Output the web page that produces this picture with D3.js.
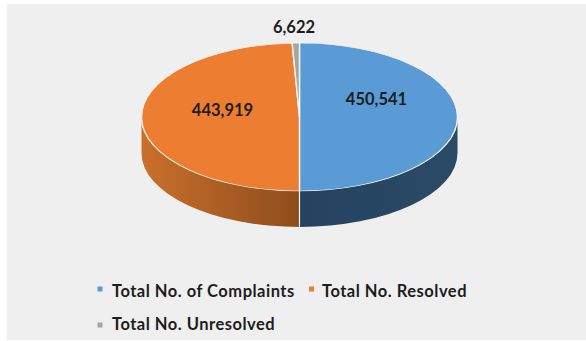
<!DOCTYPE html>
<html>
<head>
<meta charset="utf-8">
<script src="https://cdn.jsdelivr.net/npm/d3@7"></script>
<style>
  html, body { margin: 0; padding: 0; background: #fff; }
  svg { display: block; }
  text { font-family: Lato, "Open Sans", sans-serif; font-weight: 700; fill: #1d1d1d; }
</style>
</head>
<body>
<svg id="chart" width="586" height="341"></svg>
<script>
const categories = ["Total No. of Complaints", "Total No. Resolved", "Total No. Unresolved"];
const values = [450541, 443919, 6622];
const valueLabels = ["450,541", "443,919", "6,622"];
const topColors = ["#5b9bd5", "#ed7d31", "#a5a5a5"];
const wallStops = [["#254360", "#2a4a66"], ["#c9702c", "#8e4d1c"], ["#777777", "#777777"]];

const svg = d3.select("#chart");
const W = 586, H = 341;
const cx = 299.5, cy = 117, rx = 158, ry = 74, depth = 36;

// Panel behind the chart
svg.append("rect").attr("x", 7).attr("y", 4)
  .attr("width", W - 7).attr("height", H - 5).attr("fill", "#efefef");

const pie = d3.pie().sort(null).value(d => d);
const slices = pie(values);

// Point on the tilted rim for a pie angle measured clockwise from 12 o'clock
const rim = (a, dy = 0) => [cx + rx * Math.sin(a), cy - ry * Math.cos(a) + dy];

const defs = svg.append("defs");

// Side wall: only the part of each slice that faces the viewer (angles 90deg to 270deg)
const front = [Math.PI / 2, 3 * Math.PI / 2];
slices.forEach((s, i) => {
  const a0 = Math.max(s.startAngle, front[0]);
  const a1 = Math.min(s.endAngle, front[1]);
  if (a1 <= a0) return;
  const [x0, y0] = rim(a0), [x1, y1] = rim(a1);
  const id = "wall" + i;
  const grad = defs.append("linearGradient").attr("id", id)
    .attr("gradientUnits", "userSpaceOnUse")
    .attr("x1", Math.min(x0, x1)).attr("x2", Math.max(x0, x1))
    .attr("y1", 0).attr("y2", 0);
  grad.append("stop").attr("offset", 0).attr("stop-color", wallStops[i][0]);
  grad.append("stop").attr("offset", 1).attr("stop-color", wallStops[i][1]);
  svg.append("path")
    .attr("d", `M${x0},${y0} A${rx},${ry} 0 0 1 ${x1},${y1} L${x1},${y1 + depth} A${rx},${ry} 0 0 0 ${x0},${y0 + depth} Z`)
    .attr("fill", `url(#${id})`);
  // Seam where two slices meet on the wall
  if (a0 > front[0]) {
    svg.append("line").attr("x1", x0).attr("x2", x0).attr("y1", y0).attr("y2", y0 + depth)
      .attr("stroke", "#f4f1ec").attr("stroke-width", 1.2);
  }
});

// Top face: a flat d3 pie squashed vertically
const arc = d3.arc().innerRadius(0).outerRadius(rx);
svg.append("g")
  .attr("transform", `translate(${cx},${cy}) scale(1,${ry / rx})`)
  .selectAll("path").data(slices).join("path")
  .attr("d", arc)
  .attr("fill", (d, i) => topColors[i])
  .attr("stroke", "#f6f4ef")
  .attr("stroke-width", 1.4);

// Value labels
const labelPos = [[376.5, 99], [222.5, 110.5], [294, 27.5]];
svg.selectAll("text.value").data(valueLabels).join("text")
  .attr("class", "value")
  .attr("x", (d, i) => labelPos[i][0])
  .attr("y", (d, i) => labelPos[i][1])
  .attr("dy", "0.35em")
  .attr("text-anchor", "middle")
  .attr("font-size", 16.5)
  .attr("font-weight", 900)
  .text(d => d);

// Legend: marker centre, text start, text centre line
const legendPos = [[100, 289, 112, 291.5], [311.5, 289, 322, 291.5], [100, 325, 112, 324.5]];
const legend = svg.selectAll("g.legend").data(categories).join("g").attr("class", "legend");
legend.append("rect")
  .attr("x", (d, i) => legendPos[i][0] - 2.5)
  .attr("y", (d, i) => legendPos[i][1] - 2.5)
  .attr("width", 5).attr("height", 5)
  .attr("fill", (d, i) => topColors[i]);
legend.append("text")
  .attr("x", (d, i) => legendPos[i][2])
  .attr("y", (d, i) => legendPos[i][3])
  .attr("dy", "0.35em")
  .attr("font-size", 16.5)
  .attr("letter-spacing", 0.5)
  .text(d => d);
</script>
</body>
</html>
